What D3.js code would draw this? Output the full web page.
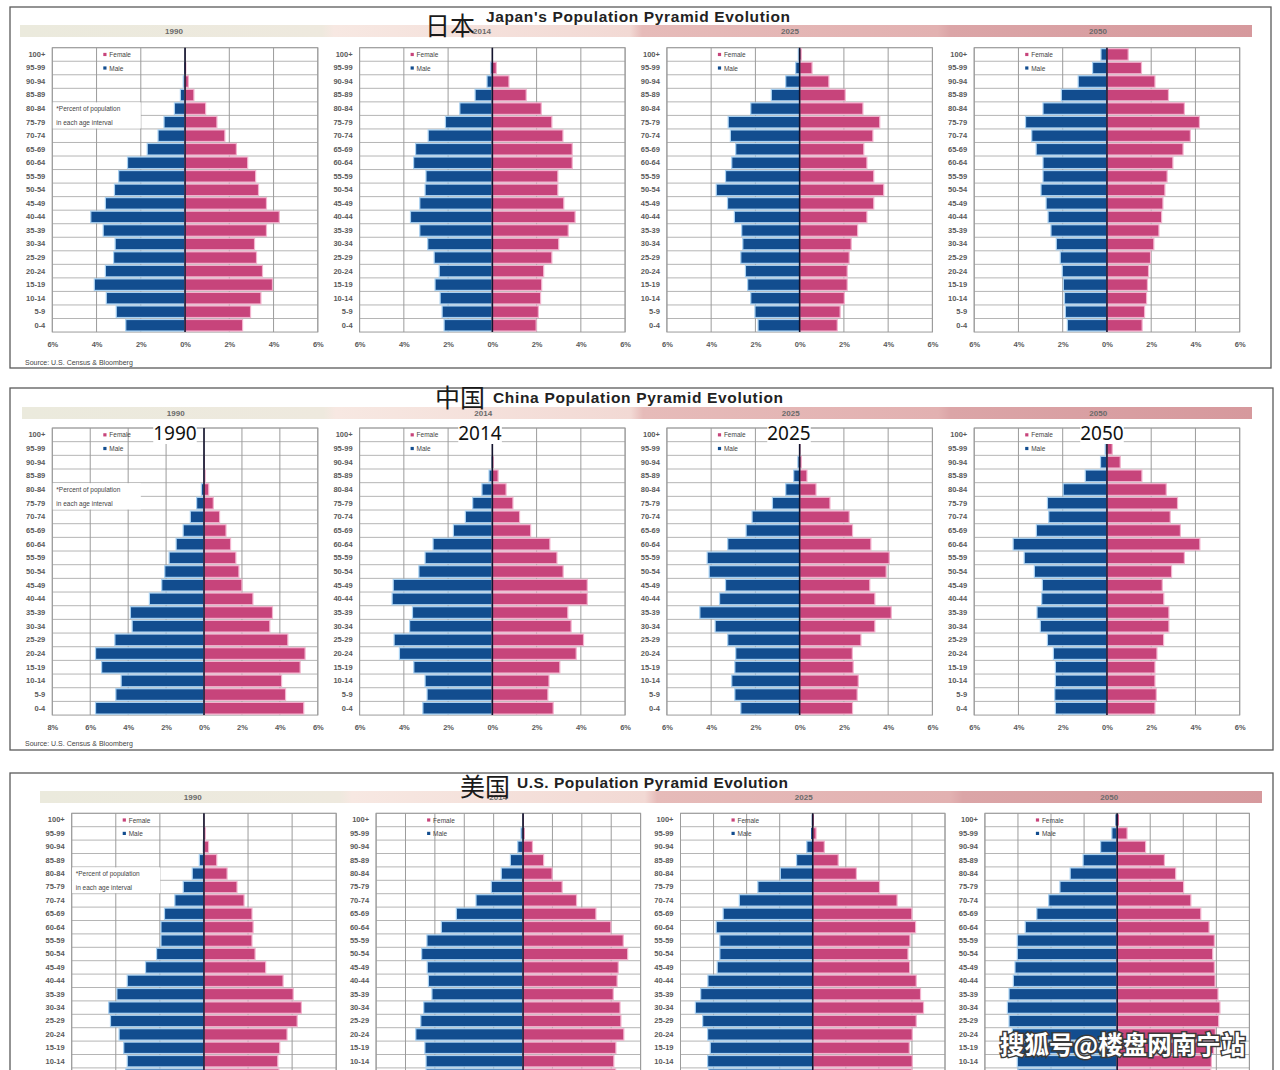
<!DOCTYPE html>
<html><head><meta charset="utf-8">
<script src="https://cdn.jsdelivr.net/npm/d3@7"></script>
<style>body{margin:0;background:#fff}svg{display:block}</style>
</head><body>
<svg id="c" width="1280" height="1070"></svg>
<script>
// ---------- DATA ----------
const ageGroups = ["100+","95-99","90-94","85-89","80-84","75-79","70-74","65-69","60-64","55-59","50-54","45-49","40-44","35-39","30-34","25-29","20-24","15-19","10-14","5-9","0-4"];
const years = ["1990","2014","2025","2050"];

const ticks6 = [-6,-4,-2,0,2,4,6];
const ticks8 = [-8,-6,-4,-2,0,2,4,6];
const ticks5 = [-5,-4,-3,-2,-1,0,1,2,3,4];
const ticks4 = [-4,-3,-2,-1,0,1,2,3,4];

// Japan (percent of population, top = 100+, bottom = 0-4)
const jp1990Male   = [0.01,0.03,0.08,0.21,0.48,0.95,1.22,1.71,2.6,3.0,3.19,3.6,4.26,3.7,3.16,3.23,3.6,4.1,3.56,3.11,2.68];
const jp1990Female = [0.01,0.05,0.15,0.4,0.93,1.44,1.8,2.32,2.83,3.19,3.32,3.68,4.26,3.68,3.14,3.23,3.5,3.95,3.43,2.96,2.6];
const jp2014Male   = [0.01,0.08,0.24,0.78,1.47,2.12,2.9,3.47,3.56,3.0,3.04,3.28,3.7,3.28,2.92,2.63,2.4,2.59,2.36,2.27,2.18];
const jp2014Female = [0.02,0.18,0.75,1.53,2.21,2.69,3.19,3.61,3.61,2.96,2.96,3.23,3.74,3.43,3.0,2.69,2.32,2.23,2.18,2.08,1.98];
const jp2025Male   = [0.06,0.18,0.63,1.28,2.21,3.23,3.13,2.89,3.07,3.35,3.77,3.26,2.95,2.62,2.57,2.66,2.45,2.35,2.21,2.02,1.88];
const jp2025Female = [0.08,0.56,1.32,2.06,2.86,3.62,3.31,2.9,3.04,3.35,3.8,3.35,3.04,2.62,2.33,2.24,2.15,2.15,2.02,1.83,1.7];
const jp2050Male   = [0.27,0.65,1.3,2.06,2.89,3.68,3.4,3.2,2.89,2.89,2.98,2.75,2.66,2.53,2.29,2.11,2.02,1.97,1.92,1.88,1.79];
const jp2050Female = [0.96,1.56,2.17,2.78,3.5,4.18,3.77,3.44,2.98,2.72,2.62,2.53,2.47,2.35,2.12,1.97,1.88,1.83,1.79,1.7,1.59];

// China
const cn1990Male   = [0,0,0.01,0.03,0.14,0.39,0.72,1.1,1.47,1.84,2.07,2.23,2.88,3.88,3.79,4.7,5.72,5.4,4.37,4.65,5.72];
const cn1990Female = [0,0,0.02,0.06,0.25,0.49,0.82,1.16,1.4,1.68,1.84,2.0,2.58,3.61,3.47,4.42,5.33,5.07,4.09,4.3,5.26];
const cn2014Male   = [0,0,0.03,0.15,0.47,0.89,1.22,1.76,2.68,3.04,3.32,4.48,4.53,3.61,3.74,4.44,4.2,3.55,3.04,2.95,3.14];
const cn2014Female = [0,0.01,0.05,0.26,0.62,0.93,1.23,1.73,2.6,2.92,3.2,4.29,4.29,3.41,3.56,4.12,3.79,3.05,2.56,2.51,2.75];
const cn2025Male   = [0,0.02,0.08,0.27,0.63,1.23,2.15,2.42,3.25,4.18,4.09,3.35,3.62,4.51,3.82,3.25,2.89,2.93,3.07,2.93,2.66];
const cn2025Female = [0,0.03,0.08,0.33,0.74,1.37,2.24,2.39,3.22,4.05,3.91,3.17,3.4,4.14,3.4,2.77,2.38,2.42,2.65,2.6,2.39];
const cn2050Male   = [0.02,0.08,0.29,0.98,1.98,2.69,2.63,3.19,4.24,3.74,3.28,2.92,2.95,3.16,3.01,2.69,2.42,2.33,2.33,2.36,2.33];
const cn2050Female = [0.03,0.24,0.6,1.58,2.68,3.19,2.86,3.32,4.2,3.5,2.92,2.5,2.57,2.8,2.8,2.56,2.26,2.17,2.17,2.23,2.17];

// United States
const us1990Male   = [0,0.01,0.05,0.21,0.53,0.94,1.32,1.79,1.95,1.95,2.15,2.65,3.48,3.95,4.32,4.24,3.85,3.64,3.48,3.55,3.6];
const us1990Female = [0.01,0.06,0.21,0.58,1.05,1.5,1.82,2.18,2.23,2.18,2.32,2.8,3.59,4.05,4.42,4.23,3.77,3.44,3.35,3.4,3.45];
const us2014Male   = [0.01,0.07,0.18,0.43,0.74,1.08,1.6,2.27,2.78,3.27,3.45,3.26,3.22,3.1,3.38,3.48,3.65,3.34,3.3,3.3,3.25];
const us2014Female = [0.02,0.05,0.32,0.7,0.99,1.33,1.82,2.48,2.99,3.41,3.56,3.24,3.2,3.07,3.3,3.33,3.43,3.16,3.09,3.15,3.1];
const us2025Male   = [0.03,0.05,0.18,0.49,0.98,1.66,2.22,2.71,2.92,2.81,2.81,2.89,3.17,3.39,3.55,3.33,3.18,3.1,3.18,3.15,3.1];
const us2025Female = [0.03,0.1,0.35,0.77,1.32,2.02,2.55,3.0,3.11,2.94,2.88,2.93,3.13,3.26,3.35,3.13,3.01,2.92,3.01,3.0,2.95];
const us2050Male   = [0.05,0.16,0.5,1.03,1.42,1.73,2.07,2.43,2.78,3.02,3.02,3.09,3.14,3.27,3.32,3.27,3.17,3.07,3.02,3.0,2.98];
const us2050Female = [0.05,0.3,0.86,1.43,1.77,2.01,2.23,2.53,2.78,2.94,2.89,2.94,2.96,3.05,3.11,3.07,2.97,2.92,2.85,2.83,2.8];

const titlesZh = ["日本","中国","美国"];
const titlesEn = ["Japan's Population Pyramid Evolution","China Population Pyramid Evolution","U.S. Population Pyramid Evolution"];
const legendLabels = ["Female","Male"];
const noteLines = ["*Percent of population","in each age interval"];
const sourceText = "Source: U.S. Census & Bloomberg";
const watermark = "搜狐号@楼盘网南宁站";

// ---------- DRAW ----------
const H = 1070;
const MALE = "#124d8f", FEMALE = "#c7447b";
const svg = d3.select("#c");
const defs = svg.append("defs");
const grad = defs.append("linearGradient").attr("id","band").attr("x1",0).attr("x2",1).attr("y1",0).attr("y2",0);
[[0,"#ebeadd"],[0.245,"#eee9de"],[0.255,"#f7e8e2"],[0.495,"#f2d9d4"],[0.505,"#e6bbb9"],[0.745,"#e2b1b1"],[0.755,"#dba5a7"],[1,"#d6999d"]]
  .forEach(([o,c]) => grad.append("stop").attr("offset",o).attr("stop-color",c));

const sections = [
  {zhX:425, zhY:24, enX:486, enY:22, enW:304, boxX:10, boxY:7, boxW:1261, boxH:361,
   bandX:20, bandW:1232, bandY:25, plotX0:52.3, plotDX:307.3, plotW:265.5, top:47.7, rowH:13.54, sourceY:362,
   panels:[[jp1990Male,jp1990Female,ticks6],[jp2014Male,jp2014Female,ticks6],[jp2025Male,jp2025Female,ticks6],[jp2050Male,jp2050Female,ticks6]]},
  {zhX:435, zhY:396, enX:493, enY:403, enW:290, boxX:10, boxY:388, boxW:1263, boxH:362,
   bandX:22, bandW:1230, bandY:407, plotX0:52.3, plotDX:307.3, plotW:265.5, top:428, rowH:13.67, sourceY:743, overlay:[175,480,789,1102],
   panels:[[cn1990Male,cn1990Female,ticks8],[cn2014Male,cn2014Female,ticks6],[cn2025Male,cn2025Female,ticks6],[cn2050Male,cn2050Female,ticks6]]},
  {zhX:460, zhY:785, enX:517, enY:788, enW:271, boxX:10, boxY:773, boxW:1263, boxH:360,
   bandX:40, bandW:1222, bandY:791, plotX0:71.7, plotDX:304.4, plotW:264.5, top:813.3, rowH:13.4, sourceY:1125,
   panels:[[us1990Male,us1990Female,ticks6],[us2014Male,us2014Female,ticks5],[us2025Male,us2025Female,ticks4],[us2050Male,us2050Female,ticks4]]}
];

sections.forEach((s, si) => {
  const g = svg.append("g");
  g.append("rect").attr("x",s.boxX).attr("y",s.boxY).attr("width",s.boxW).attr("height",s.boxH)
    .attr("fill","#fff").attr("stroke","#5a5a5a").attr("stroke-width",1.3);
  // band
  g.append("rect").attr("x",s.bandX).attr("y",s.bandY).attr("width",s.bandW).attr("height",12).attr("fill","url(#band)");
  years.forEach((yr,i)=>{
    g.append("text").attr("x", s.bandX + s.bandW/4*(i+0.5)).attr("y", s.bandY+6.5)
      .attr("text-anchor","middle").attr("dominant-baseline","central")
      .attr("font-family","Liberation Sans, Arial, sans-serif").attr("font-weight","bold")
      .attr("font-size",8).attr("fill","#6a6a6a").text(yr);
  });
  // titles
  g.append("text").attr("x",s.zhX).attr("y",s.zhY).attr("dominant-baseline","central")
    .attr("font-family","Noto Sans CJK SC").attr("font-size",25).attr("fill","#1a1a1a").text(titlesZh[si]);
  g.append("text").attr("x",s.enX).attr("y",s.enY)
    .attr("font-family","Liberation Sans, Arial, sans-serif").attr("font-weight","bold")
    .attr("font-size",15.5).attr("fill","#222").attr("textLength",s.enW).attr("lengthAdjust","spacing").text(titlesEn[si]);

  s.panels.forEach(([male, female, ticks], pi) => {
    const left = s.plotX0 + s.plotDX*pi;
    const top = s.top, bottom = s.top + s.rowH*21;
    const x = d3.scaleLinear().domain([ticks[0], ticks[ticks.length-1]]).range([left, left + s.plotW]);
    const y = d3.scaleBand().domain(ageGroups).range([top, bottom]);
    const p = g.append("g");
    p.selectAll(".row").data(ageGroups).join("line")
      .attr("x1",left).attr("x2",left+s.plotW)
      .attr("y1",d=>y(d)).attr("y2",d=>y(d)).attr("stroke","#b5b5b5").attr("stroke-width",1);
    p.selectAll(".vg").data(ticks).join("line")
      .attr("x1",d=>x(d)).attr("x2",d=>x(d)).attr("y1",top).attr("y2",bottom)
      .attr("stroke","#9c9c9c").attr("stroke-width",1);
    p.append("rect").attr("x",left).attr("y",top).attr("width",s.plotW).attr("height",bottom-top)
      .attr("fill","none").attr("stroke","#9c9c9c").attr("stroke-width",1);
    if (pi === 0) {
      p.append("rect").attr("x",left+0.5).attr("y",y("80-84")+0.5).attr("width",88).attr("height",s.rowH*2-1).attr("fill","#fff");
      noteLines.forEach((t,k)=>{
        p.append("text").attr("x",left+4).attr("y",y(ageGroups[4+k])+s.rowH/2).attr("dominant-baseline","central")
          .attr("font-family","Liberation Sans, Arial, sans-serif").attr("font-size",6.5).attr("fill","#444").text(t);
      });
    }
    legendLabels.forEach((t,k)=>{
      const yy = y(ageGroups[k]) + s.rowH/2;
      p.append("rect").attr("x",left+51).attr("y",yy-1.6).attr("width",3.2).attr("height",3.2).attr("fill",k===0?FEMALE:MALE);
      p.append("text").attr("x",left+57).attr("y",yy).attr("dominant-baseline","central")
        .attr("font-family","Liberation Sans, Arial, sans-serif").attr("font-size",6.5).attr("fill","#444").text(t);
    });
    const rows = ageGroups.map((a,i)=>({age:a, m:male[i], f:female[i]}));
    p.selectAll(".m").data(rows).join("rect")
      .attr("x",d=>x(-d.m)).attr("width",d=>x(0)-x(-d.m))
      .attr("y",d=>y(d.age)+1).attr("height",y.bandwidth()-2)
      .attr("fill",MALE).attr("stroke",d=>d.m>0.05?"#a9d2f3":"none").attr("stroke-width",1.2);
    p.selectAll(".f").data(rows).join("rect")
      .attr("x",x(0)).attr("width",d=>x(d.f)-x(0))
      .attr("y",d=>y(d.age)+1).attr("height",y.bandwidth()-2)
      .attr("fill",FEMALE).attr("stroke",d=>d.f>0.05?"#f4b3cf":"none").attr("stroke-width",1.2);
    p.append("line").attr("x1",x(0)).attr("x2",x(0)).attr("y1",top).attr("y2",bottom)
      .attr("stroke","#14142e").attr("stroke-width",1.6);
    // age axis (only the labels that fall inside the visible picture)
    const ay = p.append("g").attr("transform",`translate(${left},0)`)
      .call(d3.axisLeft(y).tickSize(0).tickPadding(7));
    ay.select(".domain").remove();
    ay.selectAll(".tick").filter(d => y(d) + y.bandwidth()/2 + 3 > H - 2).remove();
    ay.selectAll("text").attr("font-family","Liberation Sans, Arial, sans-serif").attr("font-weight","bold")
      .attr("font-size",7.5).attr("fill","#5a5a5a");
    if (bottom + 16 < H) {
      const ax = p.append("g").attr("transform",`translate(0,${bottom})`)
        .call(d3.axisBottom(x).tickValues(ticks).tickSize(0).tickPadding(10).tickFormat(d=>Math.abs(d)+"%"));
      ax.select(".domain").remove();
      ax.selectAll("text").attr("font-family","Liberation Sans, Arial, sans-serif").attr("font-weight","bold")
        .attr("font-size",7.5).attr("fill","#5a5a5a");
    }
    if (s.overlay) {
      const t = p.append("text").attr("x",s.overlay[pi]).attr("y",top+5).attr("text-anchor","middle")
        .attr("dominant-baseline","central").attr("font-family","Noto Sans, DejaVu Sans, sans-serif")
        .attr("font-size",19).attr("fill","#111").text(years[pi]);
      const bb = t.node().getBBox();
      p.insert("rect", () => t.node()).attr("x",bb.x).attr("y",bb.y+3).attr("width",bb.width).attr("height",bb.height-5).attr("fill","#fff");
    }
  });
  if (s.sourceY < H - 4) {
    g.append("text").attr("x",25).attr("y",s.sourceY).attr("dominant-baseline","central")
      .attr("font-family","Liberation Sans, Arial, sans-serif").attr("font-size",7).attr("fill","#444").text(sourceText);
  }
});

svg.append("text").attr("x",1000).attr("y",1043).attr("dominant-baseline","central")
  .attr("font-family","Noto Sans CJK SC").attr("font-weight","bold").attr("font-size",24.5)
  .attr("fill","#fff").attr("stroke","#3a3a3a").attr("stroke-width",3).attr("paint-order","stroke")
  .text(watermark);
</script>
</body></html>
